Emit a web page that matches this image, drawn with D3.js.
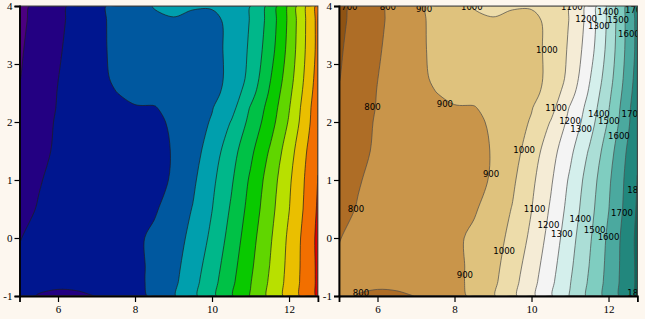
<!DOCTYPE html>
<html>
<head>
<meta charset="utf-8">
<script src="https://cdn.jsdelivr.net/npm/d3@7"></script>
<style>
  body { margin: 0; background: #fdf7ef; }
  svg { display: block; }
</style>
</head>
<body>
<script>
// grid of the surface
const xGrid = [5, 5.5, 6, 6.5, 7, 7.5, 8, 8.5, 9, 9.5, 10, 10.5, 11, 11.5, 12, 12.5, 12.75];
const yGrid = [4, 3.75, 3.25, 2.75, 2.5, 2.25, 2, 1.5, 1, 0.5, 0, -0.5, -0.75, -1];
const zRows = [
  [674, 726, 777, 828, 878, 923, 964, 1004, 1006, 1003, 1010, 1040, 1100, 1229, 1417, 1625, 1729],
  [680, 730, 781, 830, 878, 920, 960, 985, 998, 992, 970, 1030, 1105, 1236, 1421, 1628, 1728],
  [689, 739, 790, 835, 882, 915, 935, 950, 960, 965, 965, 1027, 1115, 1255, 1432, 1631, 1727],
  [697, 748, 799, 838, 875, 912, 930, 945, 955, 960, 965, 1025, 1130, 1291, 1456, 1646, 1742],
  [705, 754, 803, 834, 866, 898, 920, 935, 945, 955, 970, 1040, 1160, 1312, 1475, 1658, 1754],
  [713, 760, 805, 830, 855, 880, 895, 895, 930, 955, 995, 1065, 1207, 1335, 1493, 1673, 1769],
  [722, 767, 810, 830, 855, 865, 872, 880, 914, 959, 1008, 1105, 1228, 1354, 1510, 1681, 1774],
  [740, 775, 815, 828, 850, 868, 878, 885, 903, 960, 1048, 1159, 1277, 1409, 1555, 1713, 1790],
  [759, 795, 820, 832, 850, 865, 868, 875, 909, 982, 1078, 1187, 1315, 1445, 1583, 1730, 1802],
  [777, 805, 820, 835, 850, 862, 875, 888, 944, 1004, 1098, 1212, 1337, 1464, 1597, 1738, 1812],
  [798, 815, 828, 842, 858, 868, 880, 920, 960, 1025, 1122, 1237, 1362, 1485, 1619, 1754, 1822],
  [806, 812, 815, 825, 842, 860, 875, 922, 970, 1053, 1150, 1264, 1383, 1502, 1628, 1754, 1818],
  [807, 810, 812, 818, 838, 858, 875, 923, 978, 1065, 1164, 1277, 1395, 1512, 1633, 1755, 1817],
  [808, 798, 790, 790, 801, 850, 870, 918, 990, 1075, 1175, 1289, 1405, 1521, 1636, 1754, 1815]
];

const levels = [700, 800, 900, 1000, 1100, 1200, 1300, 1400, 1500, 1600, 1700, 1800];

// band colours, lowest band first
const leftColors = ['#4c0080', '#230082', '#00168f', '#00589f', '#009fad', '#00b78a', '#00c146',
  '#09c900', '#60d600', '#b8e000', '#eabf00', '#f26f00', '#e50000'];
const rightColors = ['#8f5313', '#ae6d26', '#c9954a', '#dfc27d', '#eddcaa', '#f5ecd6', '#f4f4f4',
  '#d4efec', '#abded6', '#7fcdc0', '#4ba99f', '#22877d', '#0b6a5e'];

const xTicks = [6, 8, 10, 12];
const yTicks = [-1, 0, 1, 2, 3, 4];

// contour labels on the right panel
const labelLevel = [700, 800, 900, 1000, 1100, 1200, 1300, 1400, 1500, 1600, 1700,
  1000, 800, 900, 1100, 1200, 1300, 1400, 1500, 1700, 1600, 1000,
  900, 800, 1100, 1200, 1300, 1400, 1500, 1600, 1700, 1800, 1000, 900, 800, 1800];
const labelX = [5.27, 6.27, 7.21, 8.45, 11.05, 11.42, 11.75, 11.99, 12.25, 12.53, 12.71,
  10.40, 5.87, 7.75, 10.64, 11.0, 11.29, 11.75, 12.01, 12.62, 12.27, 9.81,
  8.95, 5.44, 10.08, 10.44, 10.79, 11.27, 11.64, 12.0, 12.35, 12.77, 9.29, 8.27, 5.57, 12.77];
const labelY = [3.99, 3.98, 3.95, 3.99, 3.99, 3.78, 3.66, 3.90, 3.76, 3.53, 3.93,
  3.24, 2.26, 2.31, 2.24, 2.02, 1.88, 2.14, 2.02, 2.14, 1.76, 1.52,
  1.11, 0.51, 0.51, 0.23, 0.08, 0.33, 0.14, 0.02, 0.43, 0.83, -0.22, -0.63, -0.95, -0.94];

const width = 645, height = 319;
const plotW = 298.4;
const plotTop = 6, plotBottom = 296;

const svg = d3.select('body').append('svg')
  .attr('width', width)
  .attr('height', height);

const nx = xGrid.length, ny = yGrid.length;
const bands = d3.contours()
  .size([nx, ny])
  .thresholds(levels)(zRows.flat());

// grid index -> data value
const gx = d3.scaleLinear().domain(d3.range(nx)).range(xGrid).clamp(true);
const gy = d3.scaleLinear().domain(d3.range(ny)).range(yGrid).clamp(true);

const ringLine = d3.line().curve(d3.curveCatmullRomClosed.alpha(0.5));

function panel(left, colors, lineColor, name, withLabels) {
  const x = d3.scaleLinear().domain([5, 12.75]).range([left, left + plotW]);
  const y = d3.scaleLinear().domain([-1, 4]).range([plotBottom, plotTop]);

  // smooth each ring of a band polygon
  function bandPath(geom) {
    return geom.coordinates.map(poly => poly.map(ring => {
      const pts = [];
      ring.slice(0, -1).forEach(([cx, cy]) => {
        const p = [x(gx(cx - 0.5)), y(gy(cy - 0.5))];
        const q = pts[pts.length - 1];
        if (!q || Math.abs(p[0] - q[0]) > 0.05 || Math.abs(p[1] - q[1]) > 0.05) pts.push(p);
      });
      return ringLine(pts);
    }).join('')).join('');
  }

  const g = svg.append('g');

  g.append('clipPath').attr('id', 'clip-' + name)
    .append('rect')
    .attr('x', x(5)).attr('y', y(4))
    .attr('width', x(12.75) - x(5)).attr('height', y(-1) - y(4));

  g.append('rect')
    .attr('x', x(5)).attr('y', y(4))
    .attr('width', x(12.75) - x(5)).attr('height', y(-1) - y(4))
    .attr('fill', colors[0]);

  g.append('g')
    .attr('clip-path', 'url(#clip-' + name + ')')
    .selectAll('path')
    .data(bands)
    .join('path')
    .attr('d', d => bandPath(d))
    .attr('fill-rule', 'evenodd')
    .attr('fill', (d, i) => colors[i + 1])
    .attr('stroke', lineColor)
    .attr('stroke-width', 0.7)
    .attr('stroke-linejoin', 'round');

  if (withLabels) {
    g.append('g')
      .attr('clip-path', 'url(#clip-' + name + ')')
      .selectAll('text')
      .data(labelLevel)
      .join('text')
      .attr('x', (d, i) => x(labelX[i]))
      .attr('y', (d, i) => y(labelY[i]))
      .attr('text-anchor', 'middle')
      .attr('dy', '0.35em')
      .attr('font-family', '"Liberation Sans Narrow", "DejaVu Sans Condensed", "Liberation Sans", sans-serif')
      .attr('font-size', 9.5)
      .attr('fill', '#000')
      .text(d => String(d));
  }

  // frame
  g.append('rect')
    .attr('x', x(5)).attr('y', y(4))
    .attr('width', x(12.75) - x(5)).attr('height', y(-1) - y(4))
    .attr('fill', 'none')
    .attr('stroke', '#444')
    .attr('stroke-width', 1);

  const xAxis = g.append('g')
    .attr('transform', `translate(0,${plotBottom})`)
    .call(d3.axisBottom(x).tickValues(xTicks).tickSize(6).tickPadding(3).tickFormat(d => String(d)));
  const yAxis = g.append('g')
    .attr('transform', `translate(${left},0)`)
    .call(d3.axisLeft(y).tickValues(yTicks).tickSize(5).tickPadding(2).tickFormat(d => String(d)));

  [xAxis, yAxis].forEach(a => {
    a.select('.domain').attr('stroke', '#000').attr('stroke-width', 1.8);
    a.selectAll('.tick line').attr('stroke', '#000').attr('stroke-width', 1.2);
    a.selectAll('.tick text')
      .attr('font-family', '"Liberation Serif", "DejaVu Serif", serif')
      .attr('font-size', 11)
      .attr('fill', '#000');
  });
}

panel(19.5, leftColors, '#1e1e1e', 'a', false);
panel(339, rightColors, '#4a4a4a', 'b', true);
</script>
</body>
</html>
